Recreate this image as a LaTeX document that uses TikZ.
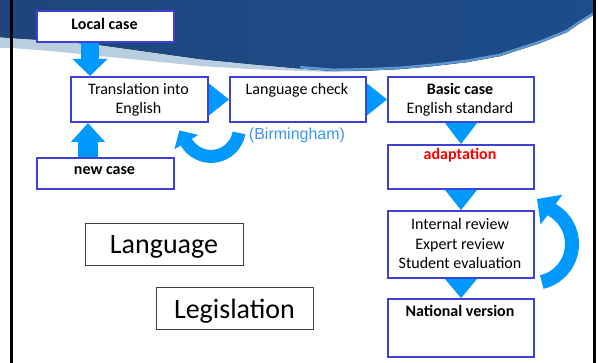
\documentclass[tikz,border=0pt]{standalone}
\usepackage{fontspec}
\setmainfont{Carlito}
\newfontfamily\arialfont{Liberation Sans}
\usetikzlibrary{arrows.meta,calc}
\definecolor{boxblue}{RGB}{64,64,214}
\definecolor{arrblue}{RGB}{0,153,255}
\definecolor{bhamblue}{RGB}{60,150,245}
\definecolor{swL}{RGB}{30,70,124}
\definecolor{swM}{RGB}{72,126,180}
\definecolor{swR}{RGB}{30,76,140}
\definecolor{swEdge}{RGB}{95,150,205}
\definecolor{swSheen}{RGB}{186,206,226}
\begin{document}
\begin{tikzpicture}[x=1pt,y=-1pt,
  box/.style={draw=boxblue, line width=2pt, fill=white, inner sep=0pt, anchor=north west},
  plainbox/.style={draw=black!75, line width=1pt, inner sep=0pt, text depth=0pt,
    font=\fontsize{28}{34}\selectfont},
  txt/.style={font=\fontsize{16}{19.5}\selectfont, inner sep=0pt, align=center},
  btxt/.style={font=\fontsize{16}{19.5}\selectfont\bfseries, inner sep=0pt, align=center},
  blockarrow/.style={draw=arrblue, line width=#1},
  tri/.style={fill=arrblue},
  curvearrow/.style={draw=arrblue, line width=#1}
]
\useasboundingbox (0,0) rectangle (598,363);
\fill[white] (0,0) rectangle (598,363);

% top swoosh: light sheen underneath, dark shaded band above
\fill[swSheen]
  (0,0) -- (593,0) -- (593,15.5) -- (580,23.5) -- (567,32.5) -- (540,43.5) -- (500,56.5)
  -- (467,62.5) -- (433,66.5) -- (400,69.5) -- (367,71) -- (333,72) -- (300,71)
  -- (250,69) -- (200,66) -- (150,61) -- (100,56) -- (50,51) -- (12,48) -- (0,48) -- cycle;
\fill[left color=swL, middle color=swM, right color=swR]
  (0,0) -- (593,0) -- (593,15) -- (580,23) -- (567,32) -- (540,43) -- (500,56)
  -- (467,62) -- (433,66) -- (400,69) -- (367,70.5) -- (333,71) -- (300,68.5)
  -- (250,64) -- (200,59) -- (150,52) -- (100,45) -- (50,40.5) -- (12,38) -- (0,37) -- cycle;
\draw[swEdge, line width=2.5pt, line join=round]
  (593,13.8) -- (580,21.8) -- (567,30.8) -- (540,41.8) -- (500,54.8) -- (467,60.8)
  -- (433,64.8) -- (400,67.8) -- (367,69.3) -- (333,69.8) -- (300,67.2);

% side lines
\draw[black, line width=3pt] (11.5,0) -- (11.5,363);
\draw[black, line width=3pt] (594.5,0) -- (594.5,363);

% boxes
\node[box, minimum width=137pt, minimum height=31pt] (lc) at (36,10) {};
\node[box, minimum width=137pt, minimum height=45pt] (tr) at (70,76) {};
\node[box, minimum width=136pt, minimum height=45pt] (lck) at (229,76) {};
\node[box, minimum width=146pt, minimum height=45pt] (bc) at (387,76) {};
\node[box, minimum width=137pt, minimum height=31pt] (nc) at (36,157) {};
\node[box, minimum width=146pt, minimum height=44pt] (ad) at (387,144) {};
\node[box, minimum width=146pt, minimum height=67pt] (ir) at (387,210) {};
\node[box, minimum width=146pt, minimum height=58pt] (nv) at (387,298) {};

% texts
\node[btxt] (lct) at (104.5,24) {Local case};
\node[txt] (trt) at (138.5,100) {Translation into\\English};
\node[txt] (lckt) at (297,90) {Language check};
\node[txt] (bct) at (460,100) {\textbf{Basic case}\\English standard};
\node[btxt] (nct) at (104.5,170.5) {new case};
\node[btxt, text=red] (adt) at (460,155.5) {adaptation};
\node[txt] (irt) at (460,244) {Internal review\\Expert review\\Student evaluation};
\node[btxt] (nvt) at (460,311) {National version};
\node[font=\arialfont\fontsize{16}{19}\selectfont, text=bhamblue, inner sep=0pt] (bham) at (297,135) {(Birmingham)};

\node[plainbox, minimum width=158pt, minimum height=42pt] (lang) at (164,245) {Language};
\node[plainbox, minimum width=157pt, minimum height=42pt] (legis) at (234.5,309) {Legislation};

% block arrows
\draw[blockarrow=18pt, -{Triangle[width=34pt,length=17pt]}]
  ([xshift=-15.5pt]lc.south) -- ([xshift=-49.5pt]tr.north);
\draw[blockarrow=20pt, -{Triangle[width=33pt,length=19pt]}]
  ([xshift=-17.5pt]nc.north) -- ([xshift=-51.5pt]tr.south);

% triangle heads between boxes
\fill[tri] ([yshift=16pt]tr.east) -- ([yshift=-16pt]tr.east) -- (lck.west) -- cycle;
\fill[tri] ([yshift=16pt]lck.east) -- ([yshift=-16pt]lck.east) -- (bc.west) -- cycle;
\fill[tri] ([xshift=-16pt]bc.south) -- ([xshift=16pt]bc.south) -- (ad.north) -- cycle;
\fill[tri] ([xshift=-16pt]ad.south) -- ([xshift=16pt]ad.south) -- (ir.north) -- cycle;
\fill[tri] ([xshift=-16pt]ir.south) -- ([xshift=16pt]ir.south) -- (nv.north) -- cycle;

% curved arrows
\coordinate (lcen) at (211,128);
\coordinate (ltip) at (179.4,130.5);
\coordinate (rcen) at (533,244);
\coordinate (rtip) at (537,199);
\begin{scope}[shift={(lcen)}]
\draw[curvearrow=13pt, -{Triangle[width=27pt,length=13.5pt]}]
  plot[domain=10:149.4, samples=40] ({28.4*cos(\x)},{28.4*sin(\x)}) -- (ltip);
\end{scope}
\begin{scope}[shift={(rcen)}]
\draw[curvearrow=14pt, -{Triangle[width=36pt,length=18pt]}]
  plot[domain=77:-61, samples=50] ({39*cos(\x)},{39*sin(\x)}) -- (rtip);
\end{scope}
\end{tikzpicture}
\end{document}
